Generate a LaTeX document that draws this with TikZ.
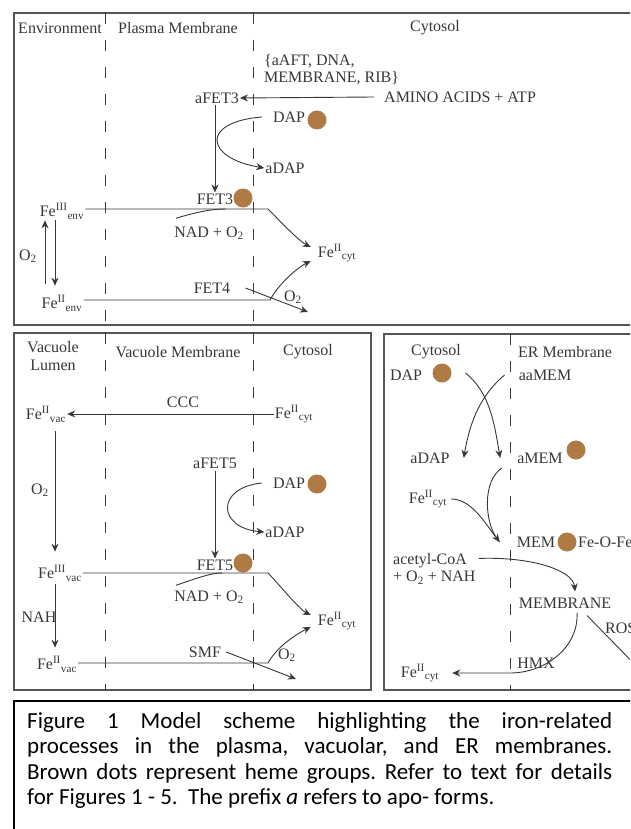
\documentclass[tikz,border=0pt]{standalone}
\usepackage{fontspec}
\setmainfont{Liberation Serif}
\newfontfamily\capfont{Carlito}
\usepackage{xcolor}
\usepackage{tikz}
\usetikzlibrary{arrows.meta, positioning}

\definecolor{hemebrown}{RGB}{176,122,68}
\definecolor{ink}{RGB}{55,55,55}
\newcommand{\iron}[2]{Fe\textsuperscript{#1}\textsubscript{#2}}
\newcommand{\oxy}{O\textsubscript{2}}

\begin{document}
\begin{tikzpicture}[
    x=1pt, y=-1pt,
    txt/.style={inner sep=1pt, text=ink, font=\fontsize{16}{17}\selectfont},
    hdr/.style={txt, font=\fontsize{16}{18}\selectfont},
    heme/.style={circle, fill=hemebrown, minimum size=19pt, inner sep=0pt},
    panel/.style={draw=ink!85, line width=1.3pt},
    memline/.style={draw=ink, line width=1pt, dash pattern=on 11pt off 16pt},
    link/.style={draw=ink, line width=0.9pt},
    arrow/.style={link, -{Stealth[length=8pt, width=7pt]}},
    capbox/.style={draw=black, line width=1.8pt},
    caption/.style={text width=585pt, align=justify, inner sep=0pt, font=\capfont\fontsize{23}{25.5}\selectfont}
]
\clip (0,0) rectangle (630,829);

%% ── Panels and membranes ─────────────────────────────────────────────
\draw[panel] (14,13) rectangle (645,325);
\draw[panel] (14,333) rectangle (371,690);
\draw[panel] (384,334) rectangle (645,690);
\draw[capbox] (14,701) rectangle (645,840);

\foreach \mx in {105,253} {
  \draw[memline] (\mx,13) -- (\mx,325);
  \draw[memline] (\mx,333) -- (\mx,690);
}
\draw[memline] (510,334) -- (510,690);

%% ── Plasma membrane panel ────────────────────────────────────────────
\node[hdr] (envhdr) at (60,28) {Environment};
\node[hdr] (pmhdr)  at (178,28) {Plasma Membrane};
\node[hdr] (cythdr) at (435,28) {Cytosol};

\node[txt, align=left, anchor=west] (prods) at (263,70) {\{aAFT, DNA,\\MEMBRANE, RIB\}};
\node[txt, anchor=west] (amino) at (383,97) {AMINO ACIDS + ATP};
\node[txt] (afet3)   at (217,98)  {aFET3};
\node[txt] (dap1)    at (289,117) {DAP};
\node[heme] (dap1h)  at (317,120) {};
\node[txt] (adap1)   at (285,168) {aDAP};
\node[txt] (fet3)    at (215,199) {FET3};
\node[heme] (fet3h)  at (243,198) {};
\node[txt] (fe3env)  at (62,211)  {\iron{III}{env}};
\node[txt] (fe2env)  at (62,303)  {\iron{II}{env}};
\node[txt] (o2env)   at (28,256)  {\oxy};
\node[txt] (nad1)    at (209,233) {NAD + \oxy};
\node[txt] (fet4)    at (212,288) {FET4};
\node[txt] (o2fet4)  at (293,297) {\oxy};
\node[txt] (fe2cyt1) at (337,253) {\iron{II}{cyt}};

\coordinate (fet3join) at (226,209);
\coordinate (fet3bend) at (268,209);
\coordinate (fet4bend) at (270,300);
\coordinate (fet4out)  at (308,312);

\draw[arrow] ([xshift=-9pt]amino.west) -- (afet3.east);
\draw[arrow] (afet3.south -| fet3) -- (fet3.north);
\draw[arrow] ([xshift=-10pt]dap1.west) .. controls (200,122) and (205,158) .. (adap1.west);
\draw[arrow] (fe3env.east |- fet3bend) -- (fet3bend)
             .. controls +(10,10) and +(-12,-6) .. ([shift={(-6,-6)}]fe2cyt1.west);
\draw[link]  ([shift={(3,-7)}]nad1.north west) .. controls +(20,-6) and +(-15,0) .. (fet3join);
\draw[arrow] ([shift={(-17,-10)}]fe2env.north) -- ([xshift=-17pt]fe3env.south);
\draw[arrow] ([xshift=-7pt]fe3env.south) -- ([shift={(-7,-8)}]fe2env.north);
\draw[arrow] (fe2env.east |- fet4bend) -- (fet4bend)
             .. controls +(10,-18) and +(-12,6) .. ([shift={(-6,8)}]fe2cyt1.west);
\draw[arrow] ([xshift=14pt]fet4.east) -- (fet4out);

%% ── Vacuole panel ────────────────────────────────────────────────────
\node[hdr, align=center] (lumhdr) at (53,356) {Vacuole\\Lumen};
\node[hdr] (vmhdr)   at (178,352) {Vacuole Membrane};
\node[hdr] (cythdr2) at (308,352) {Cytosol};

\node[txt] (ccc)     at (183,402) {CCC};
\node[txt] (fe2vac1) at (46,414)  {\iron{II}{vac}};
\node[txt] (fe2cyt2) at (294,414) {\iron{II}{cyt}};
\node[txt] (o2vac)   at (40,490)  {\oxy};
\node[txt] (afet5)   at (215,463) {aFET5};
\node[txt] (dap2)    at (289,483) {DAP};
\node[heme] (dap2h)  at (317,484) {};
\node[txt] (adap2)   at (285,532) {aDAP};
\node[txt] (fet5)    at (215,565) {FET5};
\node[heme] (fet5h)  at (243,563) {};
\node[txt] (fe3vac)  at (60,573)  {\iron{III}{vac}};
\node[txt] (nad2)    at (209,597) {NAD + \oxy};
\node[txt] (nah)     at (39,617)  {NAH};
\node[txt] (fe2cyt3) at (337,621) {\iron{II}{cyt}};
\node[txt] (smf)     at (205,652) {SMF};
\node[txt] (o2smf)   at (287,655) {\oxy};
\node[txt] (fe2vac2) at (57,664)  {\iron{II}{vac}};

\coordinate (fet5join) at (222,573);
\coordinate (fet5bend) at (268,573);
\coordinate (smfbend)  at (268,663);
\coordinate (smfout)   at (296,679);

\draw[arrow] (fe2cyt2.west) -- (fe2vac1.east);
\draw[arrow] ([shift={(9,8)}]fe2vac1.south) -- ([shift={(-5,-12)}]fe3vac.north);
\draw[arrow] ([yshift=-1pt]afet5.south) -- (fet5.north);
\draw[arrow] ([xshift=-10pt]dap2.west) .. controls (215,488) and (218,528) .. (adap2.west);
\draw[arrow] (fe3vac.east |- fet5bend) -- (fet5bend)
             .. controls +(10,10) and +(-12,-6) .. ([shift={(-6,-6)}]fe2cyt3.west);
\draw[link]  ([shift={(3,-4)}]nad2.north west) .. controls +(18,-6) and +(-12,0) .. (fet5join);
\draw[arrow] ([shift={(-5,2)}]fe3vac.south) -- ([shift={(-2,-7)}]fe2vac2.north);
\draw[arrow] (fe2vac2.east |- smfbend) -- (smfbend)
             .. controls +(10,-18) and +(-12,6) .. ([shift={(-6,6)}]fe2cyt3.west);
\draw[arrow] ([xshift=4pt]smf.east) -- (smfout);

%% ── ER panel ─────────────────────────────────────────────────────────
\node[hdr] (cythdr3) at (436,352) {Cytosol};
\node[hdr, anchor=west] (erhdr) at (517,352) {ER Membrane};

\node[txt] (dap3)    at (406,375) {DAP};
\node[heme] (dap3h)  at (442,373) {};
\node[txt] (aamem)   at (545,375) {aaMEM};
\node[txt] (adap3)   at (430,458) {aDAP};
\node[txt] (amem)    at (540,458) {aMEM};
\node[heme] (amemh)  at (576,450) {};
\node[txt] (fe2cyt4) at (428,499) {\iron{II}{cyt}};
\node[txt] (mem)     at (536,542) {MEM};
\node[heme] (memh)   at (567,542) {};
\node[txt, anchor=west] (feofe) at (577,542) {Fe-O-Fe};
\node[txt, align=left, anchor=west] (acoa) at (392,569) {acetyl-CoA\\+ \oxy{} + NAH};
\node[txt] (membr)   at (565,603) {MEMBRANE};
\node[txt, anchor=west] (ros) at (604,628) {ROS};
\node[txt] (hmx)     at (536,663) {HMX};
\node[txt] (fe2cyt5) at (420,673) {\iron{II}{cyt}};

\coordinate (memin)  at ([xshift=-16pt]mem.west);
\coordinate (rosout) at (650,680);
\coordinate (hmxend) at (510,673);

\draw[arrow] ([xshift=14pt]dap3h.east) .. controls +(24,20) and +(-6,-36) .. ([xshift=-16pt]amem.west);
\draw[arrow] ([xshift=-13pt]aamem.west) .. controls +(-24,20) and +(6,-36) .. ([xshift=13pt]adap3.east);
\draw[arrow] ([shift={(-14,10)}]amem.west) .. controls +(-20,12) and +(-15,-20) .. (memin);
\draw[link]  ([xshift=3pt]fe2cyt4.east) .. controls +(22,0) and +(-12,-14) .. (memin);
\draw[arrow] ([shift={(2,6)}]acoa.north east) .. controls +(50,-2) and +(-2,-22) .. ([shift={(10,-5)}]membr.north);
\draw[link]  ([shift={(22,6)}]membr.south) -- (rosout);
\draw[arrow] ([shift={(12,3)}]membr.south) .. controls +(2,35) and +(35,0) .. (hmxend)
             -- ([xshift=12pt]fe2cyt5.east);

%% ── Caption ──────────────────────────────────────────────────────────
\node[caption, anchor=north west] (cap) at (27,712) {\frenchspacing Figure 1 Model scheme highlighting the iron-related\linebreak
processes in the plasma, vacuolar, and ER membranes.\linebreak
Brown dots represent heme groups. Refer to text for details\linebreak
for Figures 1 - 5.\ \ The prefix \textit{a} refers to apo- forms.};

\end{tikzpicture}
\end{document}
